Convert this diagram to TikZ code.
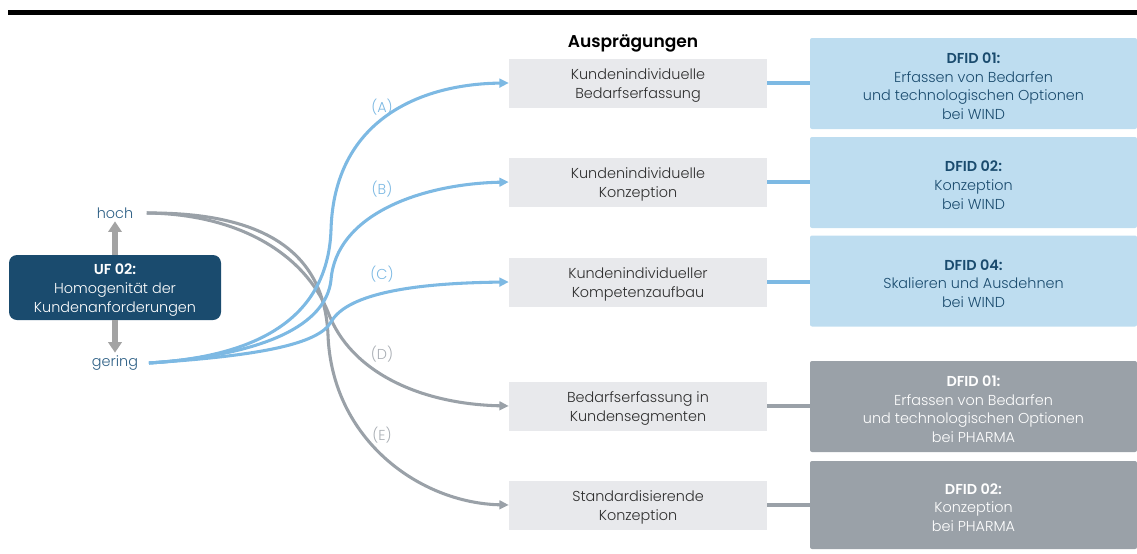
\documentclass[tikz,border=0pt]{standalone}
\usepackage{fontspec}
\setmainfont{Poppins}[UprightFont=* Light, BoldFont=* SemiBold]
\usetikzlibrary{arrows.meta}

\definecolor{navy}{HTML}{1A4B6E}
\definecolor{sky}{HTML}{7DB9E3}
\definecolor{skybox}{HTML}{BEDDF0}
\definecolor{slate}{HTML}{9AA1A8}
\definecolor{pale}{HTML}{E8E9EC}
\definecolor{ink}{HTML}{2E2E2E}
\definecolor{arrowgray}{HTML}{A3A3A3}
\definecolor{lblgray}{HTML}{A9AEB4}
\definecolor{levelblue}{HTML}{2D5F85}

\newcommand{\txtfont}{\fontsize{10.8pt}{14.1pt}\selectfont}
% strut on the first line so that the text block sits a little lower in its box
\newcommand{\topstrut}{\rule{0pt}{12pt}}

\tikzset{
  variant/.style={fill=pale, draw=none, minimum width=193.5pt, minimum height=36.75pt,
    inner sep=0pt, align=center, text=ink, font=\txtfont},
  dfidblue/.style={fill=skybox, draw=none, rounded corners=1.5pt, minimum width=245.25pt,
    minimum height=68.25pt, inner sep=0pt, align=center, text=navy, font=\txtfont},
  dfidgray/.style={fill=slate, draw=none, rounded corners=1.5pt, minimum width=245.25pt,
    minimum height=68.25pt, inner sep=0pt, align=center, text=white, font=\txtfont},
  level/.style={text=levelblue, font=\txtfont, inner sep=0pt},
  pathlabel/.style={font=\txtfont, inner sep=0pt},
  bluelink/.style={draw=sky, line width=2.3pt},
  graylink/.style={draw=slate, line width=2.3pt},
  bluecurve/.style={bluelink, -{Triangle[length=7pt,width=6.5pt]}},
  graycurve/.style={graylink, -{Triangle[length=7pt,width=6.5pt]}},
  levelarrow/.style={draw=arrowgray, line width=3.8pt, -{Triangle[length=8pt,width=10pt]}},
}

\begin{document}
\begin{tikzpicture}[x=0.75pt,y=-0.75pt]
  \useasboundingbox (0,0) rectangle (1137,553);

  % heading rule
  \fill[black] (8,10) rectangle (1137,15);

  % characteristic on the left side
  \node[fill=navy, rounded corners=6pt, minimum width=159pt, minimum height=48.75pt,
        inner sep=0pt, align=center, text=white, font=\txtfont] (uf) at (115,287.5)
        {\topstrut\textbf{UF 02:}\\Homogenität der\\Kundenanforderungen};
  \node[level] (hoch) at (115,213) {hoch};
  \node[level] (gering) at (115,363) {gering};
  \draw[levelarrow] (uf.north) -- ([yshift=-2pt]hoch.south);
  \draw[levelarrow] (uf.south) -- ([yshift=2pt]gering.north);

  % variants
  \node[font=\fontsize{12.8pt}{15pt}\selectfont\bfseries, text=black] (title) at (633,43) {Ausprägungen};
  \node[variant] (a1) at (638,83)  {\topstrut Kundenindividuelle\\Bedarfserfassung};
  \node[variant] (a2) at (638,182) {\topstrut Kundenindividuelle\\Konzeption};
  \node[variant] (a3) at (638,282) {\topstrut Kundenindividueller\\Kompetenzaufbau};
  \node[variant] (a4) at (638,406) {\topstrut Bedarfserfassung in\\Kundensegmenten};
  \node[variant] (a5) at (638,505) {\topstrut Standardisierende\\Konzeption};

  % DFID boxes
  \node[dfidblue] (d1) at (973.5,83.5)  {\topstrut\textbf{DFID 01:}\\Erfassen von Bedarfen\\und technologischen Optionen\\bei WIND};
  \node[dfidblue] (d2) at (973.5,182.5) {\topstrut\textbf{DFID 02:}\\Konzeption\\bei WIND};
  \node[dfidblue] (d3) at (973.5,281)   {\topstrut\textbf{DFID 04:}\\Skalieren und Ausdehnen\\bei WIND};
  \node[dfidgray] (d4) at (973.5,406.5) {\topstrut\textbf{DFID 01:}\\Erfassen von Bedarfen\\und technologischen Optionen\\bei PHARMA};
  \node[dfidgray, minimum height=66pt] (d5) at (973.5,505) {\topstrut\textbf{DFID 02:}\\Konzeption\\bei PHARMA};

  % links variant -> DFID
  \draw[bluelink] (a1.east) -- (d1.west |- a1.east);
  \draw[bluelink] (a2.east) -- (d2.west |- a2.east);
  \draw[bluelink] (a3.east) -- (d3.west |- a3.east);
  \draw[graylink] (a4.east) -- (d4.west |- a4.east);
  \draw[graylink] (a5.east) -- (d5.west |- a5.east);

  % paths from "hoch" (gray)
  \draw[graycurve] ([xshift=10pt]hoch.east) .. controls (285,212) and (325,268) .. (328,335)
        .. controls (332,440) and (420,503) .. (a5.west);
  \draw[graycurve] ([xshift=10pt]hoch.east) .. controls (240,214) and (305,255) .. (328,312)
        .. controls (350,372) and (420,404) .. (a4.west);

  % paths from "gering" (blue)
  \draw[bluecurve] ([xshift=8pt]gering.east) .. controls (270,356) and (328,310) .. (331,230)
        .. controls (334,120) and (420,84) .. (a1.west);
  \draw[bluecurve] ([xshift=8pt]gering.east) .. controls (265,355) and (326,325) .. (331,280)
        .. controls (336,215) and (420,184) .. (a2.west);
  \draw[bluecurve] ([xshift=8pt]gering.east) .. controls (255,356) and (318,345) .. (331,322)
        .. controls (348,292) and (420,283) .. (a3.west);

  % path labels
  \node[pathlabel, text=sky] (la) at (382,107) {(A)};
  \node[pathlabel, text=sky] (lb) at (382,189) {(B)};
  \node[pathlabel, text=sky] (lc) at (382,274) {(C)};
  \node[pathlabel, text=lblgray] (ld) at (382,354) {(D)};
  \node[pathlabel, text=lblgray] (le) at (382,435) {(E)};
\end{tikzpicture}
\end{document}
